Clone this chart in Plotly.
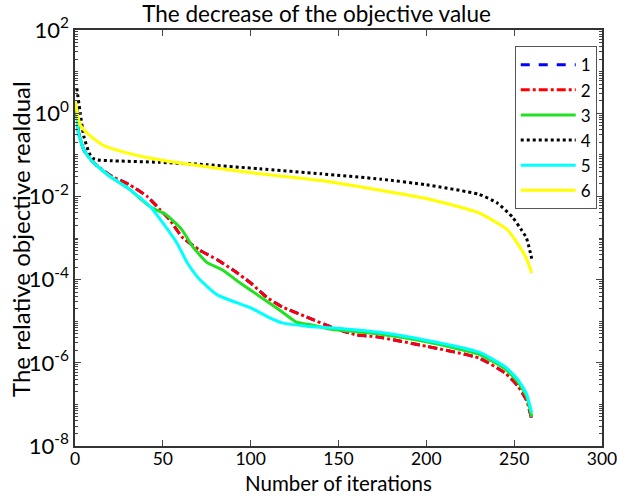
import numpy as np
import plotly.graph_objects as go

# ---- data ----
x_red = [1, 2, 5, 10, 20, 31, 41, 48, 54, 61, 71, 81, 90, 100, 109, 118, 132, 147, 160, 172, 200, 230, 245, 252, 257, 260]
y_red = [1.26, 0.35, 0.132, 0.068, 0.032, 0.019, 0.010, 5.0e-3, 2.7e-3, 1.05e-3, 5.1e-4, 3.0e-4, 1.7e-4, 8.3e-5,
         3.8e-5, 2.2e-5, 1.26e-5, 6.9e-6, 4.7e-6, 4.2e-6, 2.5e-6, 1.3e-6, 5.6e-7, 2.8e-7, 1.26e-7, 4.5e-8]

x_blue = x_red
y_blue = y_red

x_green = [1, 2, 5, 10, 20, 30, 43, 52, 61, 67, 75, 84, 94, 105, 118, 126, 135, 147, 172, 200, 230, 245, 252, 257, 260]
y_green = [1.26, 0.35, 0.132, 0.068, 0.030, 0.016, 5.6e-3, 3.6e-3, 1.55e-3, 6.2e-4, 2.6e-4, 1.7e-4, 8.3e-5, 4.0e-5,
           1.66e-5, 9.5e-6, 8.1e-6, 6.3e-6, 5.0e-6, 3.2e-6, 1.6e-6, 7.1e-7, 3.5e-7, 1.6e-7, 5.0e-8]

x_black = [1, 3, 5, 8, 10, 13, 20, 48, 75, 105, 140, 174, 200, 230, 240, 249, 254, 257, 260]
y_black = [4.0, 1.0, 0.28, 0.112, 0.083, 0.075, 0.072, 0.066, 0.058, 0.046, 0.035, 0.026, 0.019, 0.0112,
           7.1e-3, 3.2e-3, 1.6e-3, 1.0e-3, 3.2e-4]

x_cyan = [1, 2, 5, 10, 20, 30, 43, 50, 58, 64, 71, 81, 92, 100, 110, 118, 132, 147, 172, 200, 230, 245, 252, 257, 260]
y_cyan = [1.26, 0.33, 0.132, 0.068, 0.030, 0.016, 5.6e-3, 2.3e-3, 7.6e-4, 2.5e-4, 1.0e-4, 4.3e-5, 2.8e-5, 2.1e-5,
          1.26e-5, 9.1e-6, 7.6e-6, 6.9e-6, 5.5e-6, 3.5e-6, 1.8e-6, 7.9e-7, 4.0e-7, 1.8e-7, 6.3e-8]

x_yellow = [0, 3, 7, 16, 30, 48, 64, 80, 105, 140, 174, 200, 230, 246, 253, 257, 260]
y_yellow = [2.0, 0.52, 0.33, 0.17, 0.11, 0.076, 0.060, 0.048, 0.035, 0.024, 0.014, 8.9e-3, 4.0e-3, 1.6e-3,
            6.3e-4, 3.2e-4, 1.45e-4]

series_names = ["1", "2", "3", "4", "5", "6"]
x_ticks = [0, 50, 100, 150, 200, 250, 300]
y_labeled = [2, 0, -2, -4, -6, -8]

FONT = "Lato"
W, H = 617, 497
ML, MR, MT, MB = 75, 15, 30, 51
PW, PH = W - ML - MR, H - MT - MB

fig = go.Figure()
specs = [
    (x_blue, y_blue, "#0000ff", "dash"),
    (x_red, y_red, "#ff0000", "dashdot"),
    (x_green, y_green, "#22e022", "solid"),
    (x_black, y_black, "#000000", "dot"),
    (x_cyan, y_cyan, "#00ffff", "solid"),
    (x_yellow, y_yellow, "#ffff00", "solid"),
]
for name, (xs, ys, col, dash) in zip(series_names, specs):
    fig.add_trace(go.Scatter(x=xs, y=ys, mode="lines", name=name,
                             line=dict(color=col, width=3, dash=dash, shape="spline", smoothing=0.5)))

tickvals = [10.0 ** d for d in y_labeled]
ticktext = ["10<sup>%d</sup>" % d for d in y_labeled]
minor_vals = [m * 10.0 ** d for d in range(-8, 2) for m in range(2, 11)
              if not (m == 10 and (d + 1) in y_labeled)]

fig.update_layout(
    width=W, height=H, autosize=False,
    margin=dict(l=ML, r=MR, t=MT, b=MB),
    paper_bgcolor="white", plot_bgcolor="white",
    font=dict(family=FONT, size=21, color="black"),
    title=dict(text="The decrease of the objective value", x=0.513, xanchor="center",
               y=0.972, yanchor="middle", font=dict(size=22.5)),
    showlegend=True,
    legend=dict(x=0.99, y=0.961, xanchor="right", yanchor="top", bgcolor="white",
                bordercolor="#555555", borderwidth=1, font=dict(size=17),
                itemwidth=55, tracegroupgap=0),
    xaxis=dict(range=[0, 300], tickvals=x_ticks, ticks="inside", ticklen=6, mirror="ticks",
               showline=True, linecolor="#333333", linewidth=1.5, showgrid=False, zeroline=False,
               automargin=False, tickfont=dict(size=17.5), ticklabeloverflow="allow",
               ticklabelstandoff=-4),
    yaxis=dict(type="log", range=[-8, 2], tickvals=tickvals, ticktext=ticktext, ticks="inside",
               ticklen=6, mirror="ticks", showline=True, linecolor="#333333", linewidth=1.5,
               showgrid=False, zeroline=False, automargin=False, tickfont=dict(size=22),
               minor=dict(tickvals=minor_vals, ticks="inside", ticklen=3, showgrid=False)),
    annotations=[
        dict(text="Number of iterations", xref="paper", yref="paper",
             x=0.5, y=-MB / PH, xanchor="center", yanchor="bottom",
             showarrow=False, font=dict(size=20.5)),
        dict(text="The relative objective realdual", xref="paper", yref="paper",
             x=(20 - ML) / PW, y=(MT + PH - 239) / PH, xanchor="center", yanchor="middle",
             textangle=-90, showarrow=False, font=dict(size=24)),
    ],
)

fig.write_html("out.html")
